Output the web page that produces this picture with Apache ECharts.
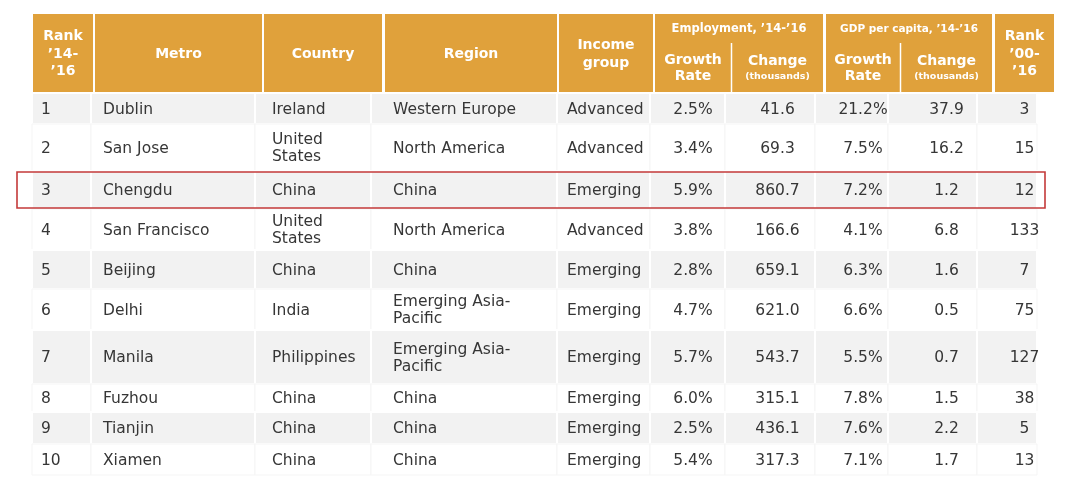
<!DOCTYPE html>
<html>
<head>
<meta charset="utf-8">
<script src="https://cdn.jsdelivr.net/npm/echarts@6/dist/echarts.min.js"></script>
<style>html,body{margin:0;padding:0;background:#fff}#c{width:1080px;height:502px}</style>
</head>
<body>
<div id="c"></div>
<script>
// ---- data ----
const ranks14 = [1, 2, 3, 4, 5, 6, 7, 8, 9, 10];
const metros = ['Dublin', 'San Jose', 'Chengdu', 'San Francisco', 'Beijing', 'Delhi', 'Manila', 'Fuzhou', 'Tianjin', 'Xiamen'];
const countries = ['Ireland', 'United States', 'China', 'United States', 'China', 'India', 'Philippines', 'China', 'China', 'China'];
const regions = ['Western Europe', 'North America', 'China', 'North America', 'China', 'Emerging Asia-Pacific', 'Emerging Asia-Pacific', 'China', 'China', 'China'];
const incomeGroups = ['Advanced', 'Advanced', 'Emerging', 'Advanced', 'Emerging', 'Emerging', 'Emerging', 'Emerging', 'Emerging', 'Emerging'];
const empGrowth = [2.5, 3.4, 5.9, 3.8, 2.8, 4.7, 5.7, 6.0, 2.5, 5.4];
const empChange = [41.6, 69.3, 860.7, 166.6, 659.1, 621.0, 543.7, 315.1, 436.1, 317.3];
const gdpGrowth = [21.2, 7.5, 7.2, 4.1, 6.3, 6.6, 5.5, 7.8, 7.6, 7.1];
const gdpChange = [37.9, 16.2, 1.2, 6.8, 1.6, 0.5, 0.7, 1.5, 2.2, 1.7];
const ranks00 = [3, 15, 12, 133, 7, 75, 127, 38, 5, 13];
const highlightMetro = 'Chengdu';

const headerLabels = ['Rank\n’14-\n’16', 'Metro', 'Country', 'Region', 'Income\ngroup', 'Growth\nRate', 'Change', 'Growth\nRate', 'Change', 'Rank\n’00-\n’16'];
const groupLabels = ['Employment, ’14-’16', 'GDP per capita, ’14-’16'];
const unitLabel = '(thousands)';

// ---- layout (axis units) ----
const headerCols = [[33, 93], [95, 262], [264, 382], [385, 557], [559, 653], [655, 731], [732, 823], [826, 900], [901, 992], [995, 1054]];
const groupSpans = [[5, 6], [7, 8]];
const bodyEdges = [32, 91, 255, 371, 557, 650, 725, 815, 888, 977, 1037];
const rowEdges = [93, 124, 171, 209, 250, 289, 330, 384, 412, 444, 475];
const headerTop = 14, headerBottom = 92, groupSplit = 43;
const wrapMap = { 'United States': 'United\nStates', 'Emerging Asia-Pacific': 'Emerging Asia-\nPacific' };

const HEAD = '#E0A13B';
const TXT = '#363636';
const BODY_FONT = '15.5px "DejaVu Sans", Verdana, sans-serif';
const HEAD_FONT = 'bold 14px "DejaVu Sans", Verdana, sans-serif';

function cellTexts(r) {
  return [
    String(ranks14[r]), metros[r], wrapMap[countries[r]] || countries[r], wrapMap[regions[r]] || regions[r], incomeGroups[r],
    empGrowth[r].toFixed(1) + '%', empChange[r].toFixed(1), gdpGrowth[r].toFixed(1) + '%', gdpChange[r].toFixed(1), String(ranks00[r])
  ];
}

const chart = echarts.init(document.getElementById('c'), null, { renderer: 'canvas' });

function px(api, x) { return api.coord([x, 0])[0]; }
function py(api, y) { return api.coord([0, y])[1]; }

const option = {
  animation: false,
  backgroundColor: '#ffffff',
  grid: { left: 0, right: 0, top: 0, bottom: 0 },
  xAxis: { type: 'value', min: 0, max: 1080, show: false },
  yAxis: { type: 'value', min: 0, max: 502, inverse: true, show: false },
  series: [
    {
      type: 'custom', z: 1, data: [[0]],
      renderItem: function (params, api) {
        const ch = [];
        const yt = py(api, headerTop), yb = py(api, headerBottom), ys = py(api, groupSplit);
        const grouped = new Set();
        groupSpans.forEach(g => { for (let c = g[0]; c <= g[1]; c++) grouped.add(c); });
        headerCols.forEach((hc, c) => {
          const xa = px(api, hc[0]), xb = px(api, hc[1]);
          if (!grouped.has(c)) {
            ch.push({ type: 'rect', shape: { x: xa, y: yt, width: xb - xa, height: yb - yt }, style: { fill: HEAD } });
            const lines = headerLabels[c].split('\n').length;
            ch.push({ type: 'text', style: { text: headerLabels[c], x: (xa + xb) / 2, y: (yt + yb) / 2 + 1, align: 'center', verticalAlign: 'middle', font: HEAD_FONT, lineHeight: lines === 3 ? 17.5 : 18, fill: '#fff' } });
          }
        });
        groupSpans.forEach((g, gi) => {
          const xa = px(api, headerCols[g[0]][0]), xb = px(api, headerCols[g[1]][1]);
          ch.push({ type: 'rect', shape: { x: xa, y: yt, width: xb - xa, height: yb - yt }, style: { fill: HEAD } });
          const xd = px(api, (headerCols[g[0]][1] + headerCols[g[1]][0]) / 2);
          ch.push({ type: 'line', shape: { x1: xd, y1: ys, x2: xd, y2: yb }, style: { stroke: '#fff', lineWidth: 1.5 } });
          ch.push({ type: 'text', style: { text: groupLabels[gi], x: (xa + xb) / 2, y: (yt + ys) / 2 + 1, align: 'center', verticalAlign: 'middle', font: (gi === 0 ? 'bold 11.5px' : 'bold 10.5px') + ' "DejaVu Sans", Verdana, sans-serif', fill: '#fff' } });
          for (let c = g[0]; c <= g[1]; c++) {
            const ca = px(api, headerCols[c][0]), cb = px(api, headerCols[c][1]);
            const cx = (ca + cb) / 2;
            if (headerLabels[c].indexOf('\n') >= 0) {
              ch.push({ type: 'text', style: { text: headerLabels[c], x: cx, y: (ys + yb) / 2 + 1, align: 'center', verticalAlign: 'middle', font: HEAD_FONT, lineHeight: 16, fill: '#fff' } });
            } else {
              ch.push({ type: 'text', style: { text: headerLabels[c], x: cx, y: py(api, 61), align: 'center', verticalAlign: 'middle', font: HEAD_FONT, fill: '#fff' } });
              ch.push({ type: 'text', style: { text: unitLabel, x: cx, y: py(api, 77), align: 'center', verticalAlign: 'middle', font: 'bold 9.5px "DejaVu Sans", Verdana, sans-serif', fill: '#fff' } });
            }
          }
        });
        return { type: 'group', children: ch };
      }
    },
    {
      type: 'custom', z: 2, data: ranks14.map((d, i) => [i]),
      renderItem: function (params, api) {
        const r = api.value(0);
        const y0 = py(api, rowEdges[r]), y1 = py(api, rowEdges[r + 1]);
        const yc = (y0 + y1) / 2;
        const gray = r % 2 === 0;
        const ch = [];
        for (let c = 0; c < bodyEdges.length - 1; c++) {
          const xa = px(api, bodyEdges[c]), xb = px(api, bodyEdges[c + 1]);
          ch.push({ type: 'rect', shape: { x: xa, y: y0, width: xb - xa, height: y1 - y0 }, style: { fill: gray ? '#F2F2F2' : '#FFFFFF', stroke: gray ? '#FFFFFF' : '#F5F5F5', lineWidth: gray ? 2 : 1 } });
        }
        const t = cellTexts(r);
        t.forEach((s, c) => {
          const hc = headerCols[c];
          const left = c <= 4;
          const x = left ? px(api, hc[0] + 8) : (px(api, hc[0]) + px(api, hc[1])) / 2;
          ch.push({ type: 'text', style: { text: s, x: x, y: yc + 1, align: left ? 'left' : 'center', verticalAlign: 'middle', font: BODY_FONT, lineHeight: 17, fill: TXT } });
        });
        return { type: 'group', children: ch };
      }
    },
    {
      type: 'custom', z: 3, data: [[metros.indexOf(highlightMetro)]],
      renderItem: function (params, api) {
        const r = api.value(0);
        const y0 = py(api, rowEdges[r]) + 1, y1 = py(api, rowEdges[r + 1]) - 1;
        const xa = px(api, bodyEdges[0] - 15), xb = px(api, bodyEdges[bodyEdges.length - 1] + 8);
        return { type: 'rect', shape: { x: xa, y: y0, width: xb - xa, height: y1 - y0 }, style: { fill: 'none', stroke: '#C43A3A', lineWidth: 1.6 } };
      }
    }
  ]
};
chart.setOption(option);
</script>
</body>
</html>
